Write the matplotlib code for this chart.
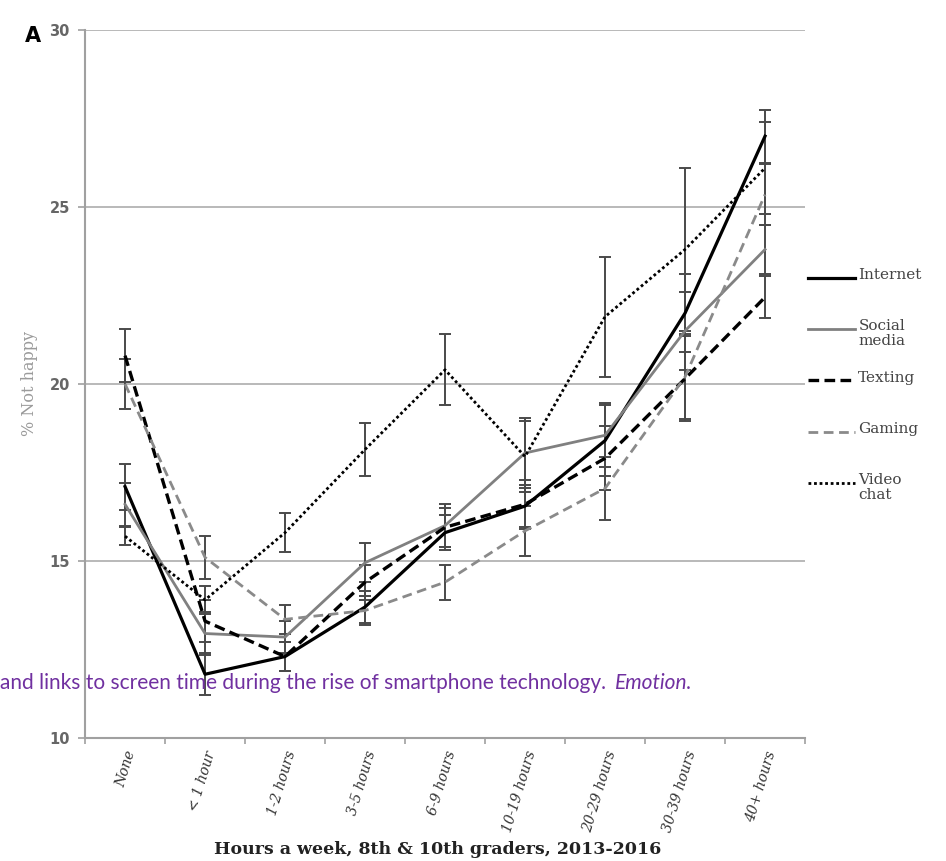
import matplotlib
matplotlib.use("Agg")
import matplotlib.pyplot as plt
import numpy as np

# values (% not happy)
categories = ["None", "< 1 hour", "1-2 hours", "3-5 hours", "6-9 hours",
              "10-19 hours", "20-29 hours", "30-39 hours", "40+ hours"]

internet = [17.1, 11.8, 12.3, 13.7, 15.8, 16.55, 18.4, 22.0, 27.0]
internet_err = [0.65, 0.6, 0.4, 0.45, 0.5, 0.6, 1.0, 1.1, 0.75]
social = [16.6, 12.95, 12.85, 14.95, 16.0, 18.05, 18.55, 21.5, 23.8]
social_err = [0.6, 0.6, 0.45, 0.55, 0.6, 1.0, 0.9, 1.1, 0.7]
texting = [20.8, 13.3, 12.3, 14.4, 15.95, 16.6, 17.9, 20.15, 22.45]
texting_err = [0.75, 0.6, 0.4, 0.5, 0.55, 0.7, 0.9, 1.2, 0.6]
gaming = [20.0, 15.1, 13.35, 13.6, 14.4, 15.85, 17.05, 20.2, 25.35]
gaming_err = [0.7, 0.6, 0.4, 0.4, 0.5, 0.7, 0.9, 1.2, 0.85]
video = [15.7, 13.9, 15.8, 18.15, 20.4, 17.95, 21.9, 23.8, 26.1]
video_err = [0.25, 0.4, 0.55, 0.75, 1.0, 1.0, 1.7, 2.3, 1.3]

labels = ["Internet", "Social\nmedia", "Texting", "Gaming", "Video\nchat"]
series = [internet, social, texting, gaming, video]
errors = [internet_err, social_err, texting_err, gaming_err, video_err]
styles = [
    dict(color="black", lw=2.3, ls="-"),
    dict(color="#808080", lw=2.0, ls="-"),
    dict(color="black", lw=2.4, ls=(0, (3.2, 1.6))),
    dict(color="#8a8a8a", lw=2.0, ls=(0, (3.5, 2.0))),
    dict(color="black", lw=2.0, ls=(0, (1, 1))),
]

fig = plt.figure(figsize=(9.46, 8.61), dpi=100)
ax = fig.add_axes([0.0899, 0.1429, 0.7611, 0.8223])

x = np.arange(len(categories))
for vals, err, st in zip(series, errors, styles):
    ax.errorbar(x, vals, yerr=err, fmt="none", ecolor="#4a4a4a",
                elinewidth=1.4, capsize=4, capthick=1.4, zorder=2)
    ax.plot(x, vals, zorder=3, **st)

ax.set_xlim(-0.5, len(categories) - 0.5)
ax.set_ylim(10, 30)
ax.set_yticks([10, 15, 20, 25, 30])
ax.yaxis.grid(True, color="#b3b3b3", lw=1.3)
ax.set_axisbelow(True)

for side in ["top", "right"]:
    ax.spines[side].set_visible(False)
for side in ["left", "bottom"]:
    ax.spines[side].set_color("#a0a0a0")
    ax.spines[side].set_linewidth(1.5)

ax.set_xticks(x)
ax.set_xticklabels(categories, rotation=73, ha="right", rotation_mode="anchor",
                   fontfamily="DejaVu Serif", fontstyle="italic", fontsize=10,
                   color="#333333")
ax.tick_params(axis="x", length=0, pad=8)
ax.set_xticks(np.arange(-0.5, len(categories)), minor=True)
ax.tick_params(axis="x", which="minor", length=4, color="#a0a0a0", width=1.2)
ax.tick_params(axis="y", length=5, color="#a0a0a0", width=1.2, pad=6,
               labelsize=10.5, labelcolor="#666666")
for t in ax.get_yticklabels():
    t.set_fontweight("bold")

ax.set_ylabel("% Not happy", fontfamily="DejaVu Serif", fontsize=11.5,
              color="#9a9a9a", labelpad=8)
ax.set_xlabel("Hours a week, 8th & 10th graders, 2013-2016",
              fontfamily="DejaVu Serif", fontweight="bold", fontsize=12.5,
              color="#222222")
ax.xaxis.set_label_coords(0.49, -0.145)

# manual legend to the right of the plot
for i, (lab, st) in enumerate(zip(labels, styles)):
    yy = 0.65 - i * 0.0725
    ax.plot([1.004, 1.069], [yy, yy], transform=ax.transAxes, clip_on=False, **st)
    ax.text(1.074, yy + 0.014, lab, transform=ax.transAxes, va="top", ha="left",
            fontfamily="DejaVu Serif", fontsize=11, color="#444444",
            linespacing=1.1)

fig.text(0.026, 0.958, "A", fontsize=15, fontweight="bold", ha="left", va="center")

# overlaid citation fragment (purple), italic journal name right after it
cite = fig.text(0.0, 0.2067,
                "and links to screen time during the rise of smartphone technology.",
                fontfamily="Lato", fontsize=15, color="#7030a0", ha="left", va="center")
fig.canvas.draw()
bb = cite.get_window_extent()
fig.text((bb.x1 + 9) / fig.bbox.width, 0.2067, "Emotion.", fontfamily="Lato",
         fontstyle="italic", fontsize=15, color="#7030a0", ha="left", va="center")

fig.savefig("out.png", dpi=100)
